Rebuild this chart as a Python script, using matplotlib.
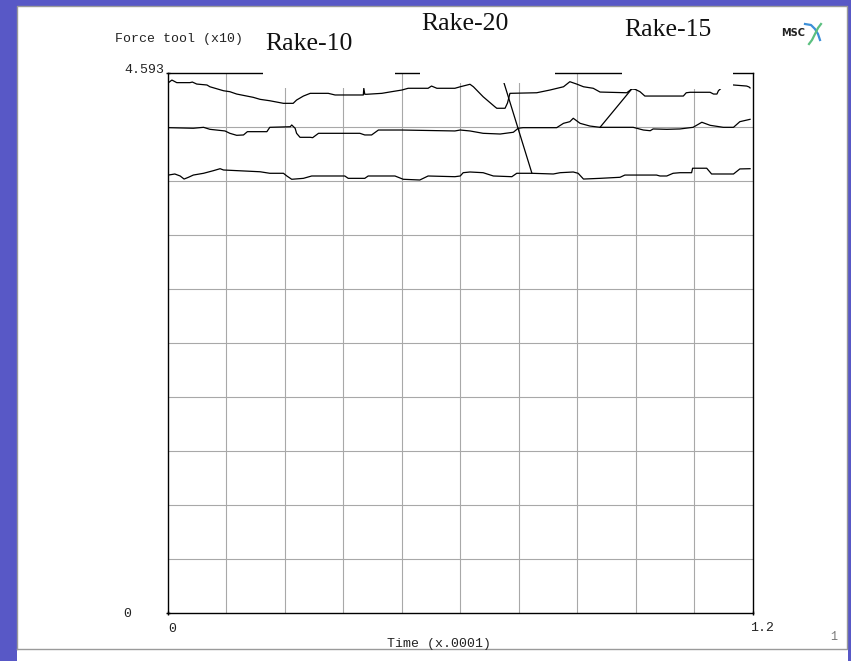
import numpy as np
import matplotlib
matplotlib.use("Agg")
import matplotlib.pyplot as plt
from matplotlib.patches import Rectangle
from matplotlib.lines import Line2D

# --- data: time (x.0001) and force tool (x10) ---
top_t = [0.001, 0.008, 0.018, 0.045, 0.050, 0.059, 0.080, 0.086, 0.114, 0.127, 0.141,
         0.175, 0.189, 0.209, 0.237, 0.257, 0.264, 0.278, 0.292, 0.329, 0.343, 0.401,
         0.402, 0.404, 0.408, 0.439, 0.459, 0.480, 0.493, 0.534, 0.541, 0.552, 0.589,
         0.600, 0.620, 0.627, 0.647, 0.671, 0.675, 0.692, 0.697, 0.702, 0.757, 0.784,
         0.812, 0.825, 0.839, 0.853, 0.873, 0.887, 0.942, 0.952, 0.959, 0.969, 0.979,
         1.058, 1.064, 1.072, 1.113, 1.120, 1.127, 1.130, 1.140]
top_f = [4.511, 4.533, 4.511, 4.511, 4.516, 4.499, 4.491, 4.476, 4.442, 4.434, 4.414,
         4.386, 4.369, 4.357, 4.335, 4.335, 4.363, 4.397, 4.420, 4.420, 4.406, 4.406,
         4.463, 4.412, 4.412, 4.420, 4.434, 4.448, 4.463, 4.463, 4.482, 4.463, 4.463,
         4.476, 4.497, 4.476, 4.391, 4.306, 4.293, 4.293, 4.338, 4.420, 4.425, 4.448,
         4.476, 4.519, 4.499, 4.476, 4.463, 4.431, 4.425, 4.457, 4.454, 4.434, 4.397,
         4.397, 4.425, 4.429, 4.429, 4.414, 4.414, 4.442, 4.480]

tail_t = [1.161, 1.188, 1.193, 1.195]
tail_f = [4.491, 4.482, 4.474, 4.466]

mid_t = [0.001, 0.052, 0.073, 0.086, 0.117, 0.127, 0.141, 0.155, 0.163, 0.203, 0.209,
         0.251, 0.254, 0.261, 0.264, 0.271, 0.292, 0.297, 0.309, 0.394, 0.404, 0.418,
         0.432, 0.480, 0.589, 0.600, 0.620, 0.647, 0.682, 0.709, 0.719, 0.729, 0.798,
         0.812, 0.825, 0.832, 0.846, 0.866, 0.887, 0.955, 0.976, 0.990, 0.996, 1.024,
         1.051, 1.078, 1.096, 1.113, 1.140, 1.161, 1.174, 1.195]
mid_f = [4.128, 4.123, 4.131, 4.114, 4.100, 4.080, 4.063, 4.066, 4.094, 4.094, 4.131,
         4.136, 4.151, 4.123, 4.080, 4.046, 4.046, 4.043, 4.080, 4.080, 4.066, 4.066,
         4.108, 4.108, 4.100, 4.108, 4.100, 4.080, 4.074, 4.089, 4.123, 4.128, 4.128,
         4.165, 4.179, 4.208, 4.165, 4.142, 4.131, 4.131, 4.108, 4.102, 4.117, 4.114,
         4.117, 4.131, 4.174, 4.148, 4.131, 4.131, 4.179, 4.199]

low_t = [0.001, 0.014, 0.025, 0.033, 0.042, 0.052, 0.073, 0.093, 0.107, 0.114, 0.189,
         0.209, 0.237, 0.244, 0.254, 0.278, 0.295, 0.363, 0.370, 0.404, 0.411, 0.466,
         0.483, 0.517, 0.534, 0.589, 0.600, 0.606, 0.620, 0.647, 0.668, 0.706, 0.716,
         0.747, 0.791, 0.805, 0.832, 0.842, 0.853, 0.887, 0.928, 0.938, 1.003, 1.010,
         1.024, 1.037, 1.051, 1.075, 1.077, 1.106, 1.116, 1.161, 1.174, 1.195]
low_f = [3.725, 3.734, 3.717, 3.691, 3.706, 3.725, 3.740, 3.762, 3.779, 3.768, 3.753,
         3.740, 3.740, 3.717, 3.689, 3.697, 3.717, 3.717, 3.697, 3.697, 3.717, 3.717,
         3.689, 3.683, 3.717, 3.711, 3.717, 3.745, 3.751, 3.745, 3.717, 3.711, 3.740,
         3.740, 3.734, 3.745, 3.751, 3.740, 3.691, 3.697, 3.706, 3.725, 3.725, 3.717,
         3.717, 3.740, 3.745, 3.745, 3.783, 3.783, 3.734, 3.734, 3.777, 3.779]

# straight jumps drawn between the curves
jump1_t = [0.688, 0.747]
jump1_f = [4.533, 3.742]
jump2_t = [0.887, 0.952]
jump2_f = [4.131, 4.457]

x_max = 1.2
y_max = 4.593

W, H = 851, 661


def fx(x):
    return x / W


def fy(y):
    return 1 - y / H


fig = plt.figure(figsize=(W / 100, H / 100), dpi=100, facecolor="#5858c6")

# white slide panel
fig.patches.append(Rectangle((fx(17), 0), fx(848) - fx(17), fy(6), transform=fig.transFigure,
                             facecolor="white", edgecolor="none", zorder=-5))
fig.add_artist(Line2D([fx(17), fx(17), fx(847), fx(847), fx(17)],
                      [fy(649), fy(6), fy(6), fy(649), fy(649)],
                      transform=fig.transFigure, color="#9a9a9a", lw=1, zorder=-4))

ax = fig.add_axes([fx(168), fy(613), fx(752.5) - fx(168), fy(73) - fy(613)])
ax.set_facecolor("white")
ax.set_xlim(0, x_max)
ax.set_ylim(0, y_max)

ax.set_xticks(np.linspace(0, x_max, 11), minor=True)
ax.set_yticks(np.linspace(0, y_max, 11), minor=True)
ax.set_xticks([0, x_max])
ax.set_yticks([0, y_max])
ax.set_xticklabels([])
ax.set_yticklabels([])
ax.tick_params(which="minor", length=0)
ax.tick_params(which="major", length=3, direction="inout", color="black", width=1)
ax.grid(which="minor", color="#a8a8a8", lw=0.8)
for s in ax.spines.values():
    s.set_color("black")
    s.set_linewidth(1.0)

for t, f in [(top_t, top_f), (tail_t, tail_f), (mid_t, mid_f), (low_t, low_f),
             (jump1_t, jump1_f), (jump2_t, jump2_f)]:
    ax.plot(t, f, color="black", lw=0.9, zorder=3)

# white text boxes of the slide covering the top of the plot
for x0, x1, y1 in [(263, 395, 88), (420, 555, 83), (622, 733, 89)]:
    fig.patches.append(Rectangle((fx(x0), fy(y1)), fx(x1) - fx(x0), fy(10) - fy(y1),
                                 transform=fig.transFigure, facecolor="white",
                                 edgecolor="none", zorder=5))

serif = dict(family="Liberation Serif", fontsize=18.5, color="#111111",
             ha="center", va="center", zorder=6)
fig.text(fx(308.5), fy(44), "Rake-10", **serif)
fig.text(fx(465), fy(24), "Rake-20", **serif)
fig.text(fx(667.5), fy(30), "Rake-15", **serif)

mono = dict(family="Liberation Mono", fontsize=9.5, color="#222222", zorder=6)
fig.text(fx(115), fy(39), "Force tool (x10)", ha="left", va="center", **mono)
fig.text(fx(164), fy(70), "4.593", ha="right", va="center", **mono)
fig.text(fx(127), fy(614), "0", ha="center", va="center", **mono)
fig.text(fx(172), fy(629), "0", ha="center", va="center", **mono)
fig.text(fx(762), fy(628), "1.2", ha="center", va="center", **mono)
fig.text(fx(439), fy(644), "Time (x.0001)", ha="center", va="center", **mono)
fig.text(fx(834), fy(637), "1", ha="center", va="center", family="Liberation Mono",
         fontsize=8.5, color="#777777")

# MSC logo
fig.text(fx(793), fy(33), "MSC", ha="center", va="center", family="DejaVu Sans",
         fontsize=7, fontweight="bold", color="#222222", zorder=6)
fig.add_artist(Line2D([fx(805), fx(811), fx(815), fx(818), fx(820)],
                      [fy(24), fy(25), fy(29), fy(34), fy(40)],
                      transform=fig.transFigure, color="#3c8fd8", lw=1.6, zorder=6))
fig.add_artist(Line2D([fx(809), fx(812), fx(815), fx(818), fx(821)],
                      [fy(44), fy(40), fy(34), fy(28), fy(24)],
                      transform=fig.transFigure, color="#5cc080", lw=1.6, zorder=6))

fig.savefig("out.png", dpi=100, facecolor=fig.get_facecolor())
